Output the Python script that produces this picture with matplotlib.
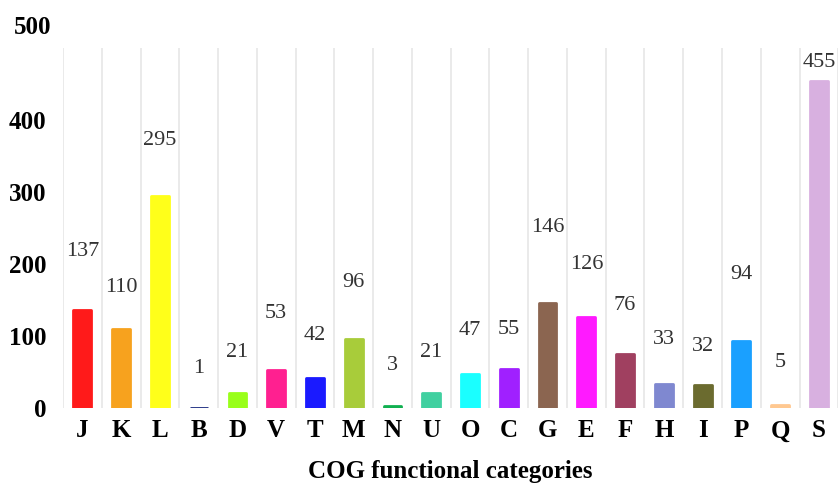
import numpy as np
import matplotlib
matplotlib.use('Agg')
import matplotlib.pyplot as plt
import matplotlib.transforms as mtransforms

# COG categories and gene counts
categories = ['J', 'K', 'L', 'B', 'D', 'V', 'T', 'M', 'N', 'U',
              'O', 'C', 'G', 'E', 'F', 'H', 'I', 'P', 'Q', 'S']
counts = [137, 110, 295, 1, 21, 53, 42, 96, 3, 21,
          47, 55, 146, 126, 76, 33, 32, 94, 5, 455]

colors = ['#FF1A1A', '#F7A21E', '#FFFF1A', '#1A2A80', '#99FF1A',
          '#FF2090', '#1A1AFF', '#A8CC3A', '#10B050', '#40D0A0',
          '#1AFFFF', '#A020FF', '#8B6550', '#FF1AFF', '#A04060',
          '#7F88D0', '#6B6B2F', '#1AA0FF', '#FFC890', '#D8B0E0']

# how far above each bar the number sits (data units)
label_offset = [80, 58, 77, 54, 57, 79, 59, 79, 57, 57,
                61, 55, 105, 73, 66, 63, 54, 92, 59, 25]

plt.rcParams['font.family'] = ['Liberation Serif', 'DejaVu Serif']

fig = plt.figure(figsize=(8.4, 4.86), dpi=100)
ax = fig.add_axes([0.075, 0.16, 0.923, 0.741])

x = np.arange(len(categories))
bars = ax.bar(x, counts, width=0.46, color=colors, edgecolor=colors,
              linewidth=2, zorder=3)
for b in bars:
    b.set_joinstyle('round')

for xi, v, off in zip(x, counts, label_offset):
    ax.text(xi, v + off, str(v), ha='center', va='center',
            fontsize=16, color='#333333', zorder=4)

ax.set_xlim(-0.5, len(categories) - 0.5)
ax.set_ylim(0, 500)
ax.set_xticks(x)
ax.set_xticklabels(categories, fontsize=18, fontweight='bold')
ax.set_yticks([0, 100, 200, 300, 400])
ax.set_yticklabels(['0', '100', '200', '300', '400'],
                   fontsize=18, fontweight='bold')
ax.tick_params(length=0, pad=8)
ax.tick_params(axis='y', pad=12)

# top label sits a bit above the plot area in the original
off = mtransforms.ScaledTranslation(-0.12, 0.21, fig.dpi_scale_trans)
ax.text(0, 500, '500', transform=ax.get_yaxis_transform() + off,
        ha='right', va='center', fontsize=18, fontweight='bold')

# light vertical separators between categories
ax.set_xticks(np.arange(len(categories) + 1) - 0.5, minor=True)
ax.grid(True, which='minor', axis='x', color='#E6E6E6', lw=1.2, zorder=0)
ax.tick_params(which='minor', length=0)

for s in ax.spines.values():
    s.set_visible(False)

ax.set_xlabel('COG functional categories', fontsize=18, fontweight='bold',
              labelpad=13)

fig.savefig('out.png', dpi=100)
